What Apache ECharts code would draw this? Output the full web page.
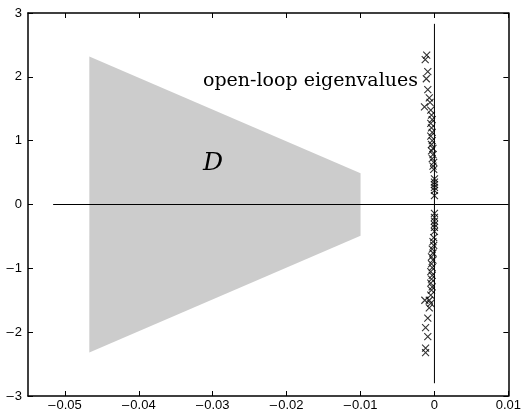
<!DOCTYPE html>
<html>
<head>
<meta charset="utf-8">
<script src="https://cdn.jsdelivr.net/npm/echarts@6/dist/echarts.min.js"></script>
<style>
  html, body { margin: 0; padding: 0; background: #fff; }
  #chart { width: 524px; height: 412px; }
</style>
</head>
<body>
<div id="chart"></div>
<script>
// tick labels
const xTicks = [-0.05, -0.04, -0.03, -0.02, -0.01, 0, 0.01]
const yTicks = [-3, -2, -1, 0, 1, 2, 3]

// region D (trapezoid corners)
const regionX = [-0.0467, -0.0100, -0.0100, -0.0467]
const regionY = [2.32, 0.49, -0.49, -2.32]

// reference lines
const realAxisX = [-0.0516, 0.01]
const imagAxisY = [-2.8, 2.83]

// open-loop eigenvalues (real, imag)
const eigRe = [
  -0.00105, -0.00125, -0.0009, -0.0011, -0.0009, -0.0007, -0.0006, -0.00135, -0.0005,
  -0.0004, -0.0003, -0.0005, -0.0004, -0.0003, -0.0005, -0.0003, -0.0004, -0.0002,
  -0.0004, -0.0002, -0.0003, -0.0001, -0.0002, -0.0001,
  0.0000, 0.0000, 0.0000, 0.0000, 0.0000, 0.0000,
  0.0000, 0.0000, 0.0000, 0.0000, 0.0000, 0.0000,
  -0.0001, -0.0002, -0.0001, -0.0003, -0.0002, -0.0004, -0.0002, -0.0004, -0.0003,
  -0.0005, -0.0003, -0.0004, -0.0005, -0.0003, -0.0004, -0.0005,
  -0.0007, -0.0013, -0.0005, -0.0007, -0.0009, -0.0012, -0.0009, -0.0012, -0.0012
]
const eigIm = [
  2.34, 2.27, 2.08, 1.97, 1.80, 1.67, 1.60, 1.53, 1.48,
  1.40, 1.33, 1.27, 1.20, 1.13, 1.07, 1.00, 0.94, 0.88,
  0.84, 0.78, 0.72, 0.66, 0.60, 0.55,
  0.40, 0.35, 0.31, 0.27, 0.22, 0.14,
  -0.14, -0.20, -0.26, -0.31, -0.36, -0.42,
  -0.52, -0.58, -0.64, -0.70, -0.76, -0.82, -0.87, -0.93, -0.99,
  -1.05, -1.11, -1.17, -1.23, -1.29, -1.34, -1.42,
  -1.50, -1.50, -1.55, -1.62, -1.78, -1.93, -2.07, -2.25, -2.32
]

const chart = echarts.init(document.getElementById('chart'))

const tickStyle = { color: '#000', width: 1 }
const labelFont = 'Liberation Sans'
// wide minus like the original plot
const fmt = (v) => (v < 0 ? '\u2013\u200a' + String(-v) : String(v))

function xAxisDef(pos, showLabel) {
  return {
    type: 'value',
    position: pos,
    min: -0.055,
    max: 0.01,
    axisLine: { show: true, onZero: false, lineStyle: { color: '#000', width: 1.5 } },
    axisTick: { show: true, inside: true, length: 5, customValues: xTicks, lineStyle: tickStyle },
    axisLabel: {
      show: showLabel,
      customValues: xTicks,
      formatter: fmt,
      color: '#000',
      fontSize: 13,
      fontFamily: labelFont,
      margin: 3,
    },
    splitLine: { show: false },
  }
}

function yAxisDef(pos, showLabel) {
  return {
    type: 'value',
    position: pos,
    min: -3,
    max: 3,
    interval: 1,
    axisLine: { show: true, onZero: false, lineStyle: { color: '#000', width: 1.5 } },
    axisTick: { show: true, inside: true, length: 5, lineStyle: tickStyle },
    axisLabel: {
      show: showLabel,
      formatter: fmt,
      color: '#000',
      fontSize: 13,
      fontFamily: labelFont,
      margin: 6,
    },
    splitLine: { show: false },
  }
}

chart.setOption({
  animation: false,
  backgroundColor: '#fff',
  grid: { left: 28, right: 13, top: 13, bottom: 16, containLabel: false },
  xAxis: [xAxisDef('bottom', true), xAxisDef('top', false)],
  yAxis: [yAxisDef('left', true), yAxisDef('right', false)],
  series: [
    {
      type: 'custom',
      silent: true,
      z: 1,
      data: [[regionX[0], regionY[0]]],
      renderItem: function (params, api) {
        const pts = regionX.map((x, i) => api.coord([x, regionY[i]]))
        return { type: 'polygon', shape: { points: pts }, style: { fill: '#cccccc' } }
      },
    },
    {
      type: 'line',
      silent: true,
      z: 2,
      symbol: 'none',
      data: [[realAxisX[0], 0], [realAxisX[1], 0]],
      lineStyle: { color: '#000', width: 1 },
    },
    {
      type: 'line',
      silent: true,
      z: 2,
      symbol: 'none',
      data: [[0, imagAxisY[0]], [0, imagAxisY[1]]],
      lineStyle: { color: '#000', width: 1 },
    },
    {
      type: 'scatter',
      silent: true,
      z: 3,
      symbol: 'path://M0,0L10,10M10,0L0,10',
      symbolSize: [7, 7],
      itemStyle: { color: 'none', borderColor: '#000', borderWidth: 1.1 },
      data: eigRe.map((re, i) => [re, eigIm[i]]),
    },
  ],
  graphic: [
    {
      type: 'text',
      z: 100,
      left: 203,
      top: 72,
      style: {
        text: 'open-loop eigenvalues',
        font: '19px "DejaVu Serif"',
        fill: '#000',
      },
    },
    {
      type: 'text',
      z: 100,
      left: 203,
      top: 151,
      style: {
        text: 'D',
        font: 'italic 25px "DejaVu Serif"',
        fill: '#000',
      },
    },
  ],
})
</script>
</body>
</html>
